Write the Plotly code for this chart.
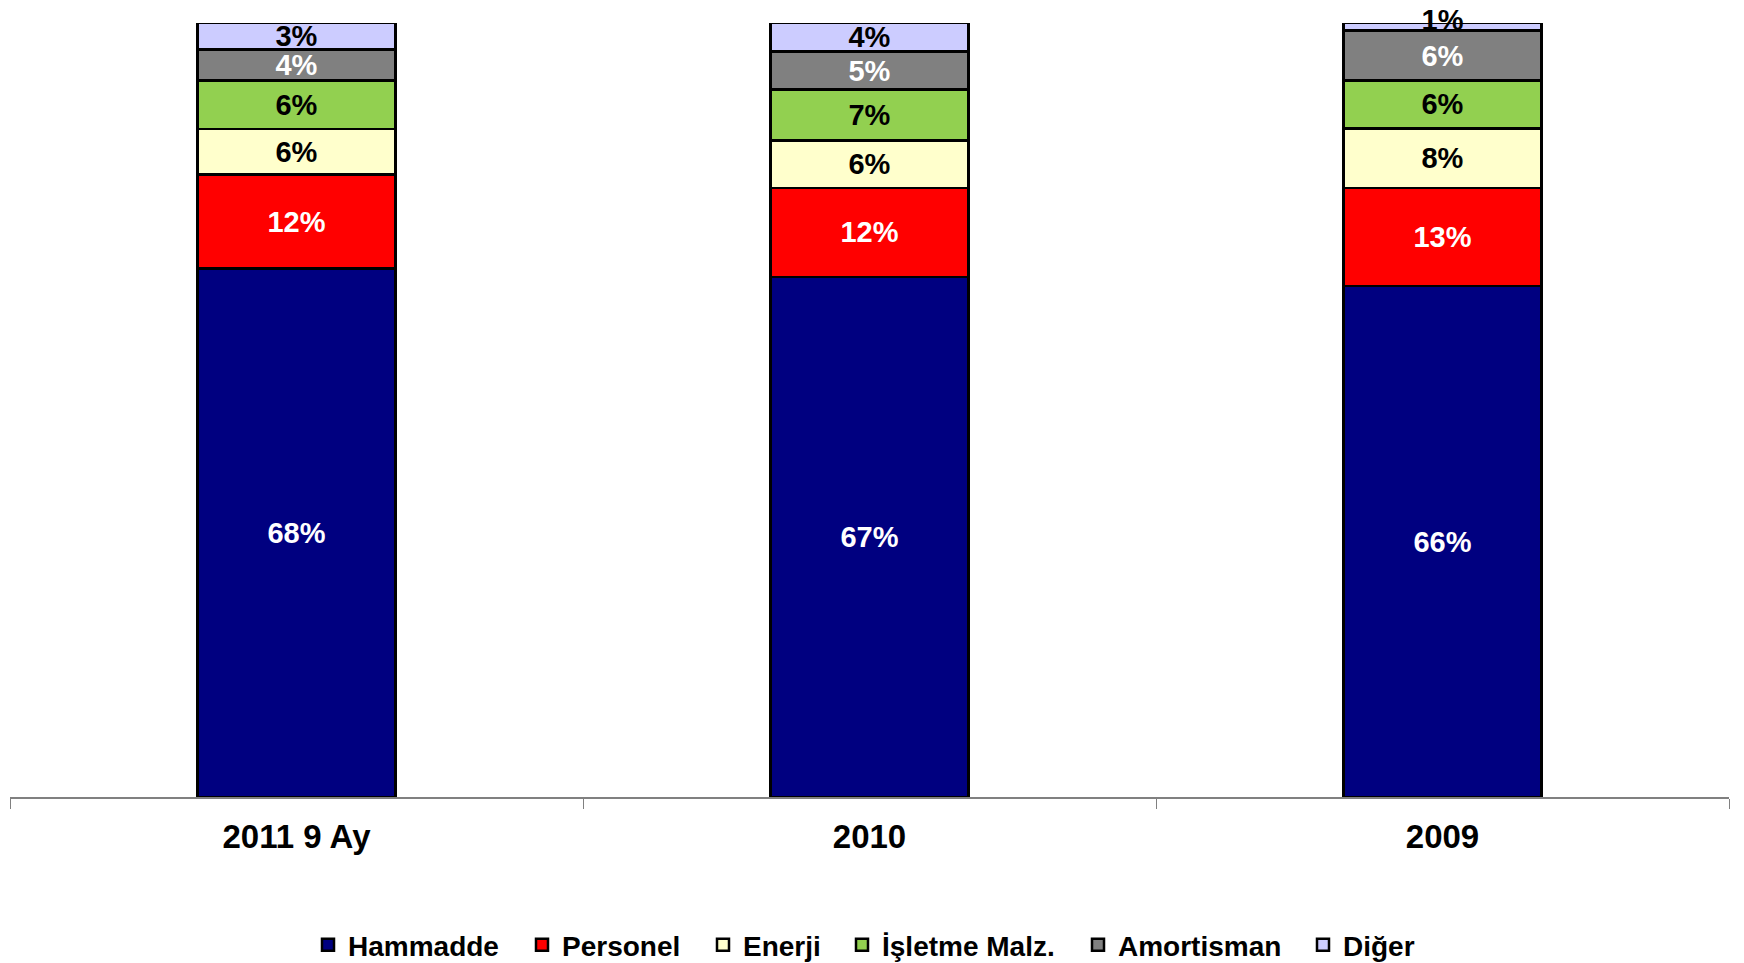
import plotly.graph_objects as go

categories = ["2011 9 Ay", "2010", "2009"]
series_names = ["Hammadde", "Personel", "Enerji", "İşletme Malz.", "Amortisman", "Diğer"]
hammadde = [68.3, 67.2, 66.0]
personel = [12.1, 11.5, 12.7]
enerji = [5.9, 6.1, 7.7]
isletme = [6.3, 6.6, 6.2]
amortisman = [4.0, 4.9, 6.4]
diger = [3.4, 3.7, 1.0]

series_values = [hammadde, personel, enerji, isletme, amortisman, diger]
colors = ["#000080", "#FF0000", "#FFFFCC", "#92D050", "#808080", "#CCCCFF"]
text_colors = ["white", "white", "black", "black", "white", "black"]

FONT = "Liberation Sans, Arial, sans-serif"
W, H = 1744, 963
PAGE_OFF = 8  # the html body margin shifts the figure by this many px
# desired plot-area box on the page
P_LEFT, P_RIGHT, P_TOP, P_BOTTOM = 10, 1729, 23, 797
ML = P_LEFT - PAGE_OFF
MT = P_TOP - PAGE_OFF
MR = W - (P_RIGHT - PAGE_OFF)
MB = H - (P_BOTTOM - PAGE_OFF)
PW = W - ML - MR
PH = H - MT - MB
# legend entry text-start positions (page px) in the reference
legend_text_px = [348, 562, 743, 882, 1118, 1343]
LEGEND_Y_PAGE = 945

fig = go.Figure()
small_x, small_y, small_t = [], [], []
for i, (name, vals) in enumerate(zip(series_names, series_values)):
    labels = []
    for j, v in enumerate(vals):
        if name == "Diğer" and v < 2:
            labels.append("")
            small_x.append(categories[j])
            small_y.append(sum(s[j] for s in series_values))
            small_t.append(f"{round(v):d}%")
        else:
            labels.append(f"{round(v):d}%")
    legend_id = "legend" if i == 0 else f"legend{i + 1}"
    fig.add_trace(go.Bar(
        name=name,
        x=categories,
        y=vals,
        legend=legend_id,
        marker=dict(color=colors[i], line=dict(color="black", width=2.5)),
        text=labels,
        textposition="inside",
        insidetextanchor="middle",
        textangle=0,
        cliponaxis=False,
        insidetextfont=dict(family=FONT, size=29, color=text_colors[i], weight="bold"),
        width=0.345,
    ))

# label of the tiny top segment, centred on the bar top
fig.add_trace(go.Scatter(
    x=small_x, y=small_y, mode="text", text=small_t,
    textposition="middle center", showlegend=False, cliponaxis=False,
    textfont=dict(family=FONT, size=29, color="black", weight="bold"),
    hoverinfo="skip",
))

legend_common = dict(
    orientation="h",
    yanchor="middle",
    y=-(LEGEND_Y_PAGE - PAGE_OFF - (H - MB)) / PH,
    xanchor="left",
    font=dict(family=FONT, size=28, color="black", weight="bold"),
    itemwidth=30,
    bgcolor="rgba(0,0,0,0)",
)
legend_layout = {}
for i in range(len(series_names)):
    key = "legend" if i == 0 else f"legend{i + 1}"
    d = dict(legend_common)
    d["x"] = (legend_text_px[i] - PAGE_OFF - 40 - ML) / PW
    legend_layout[key] = d

fig.update_layout(
    barmode="stack",
    width=W,
    height=H,
    margin=dict(l=ML, r=MR, t=MT, b=MB, autoexpand=False),
    paper_bgcolor="white",
    plot_bgcolor="white",
    uniformtext=dict(minsize=29, mode="show"),
    showlegend=True,
    xaxis=dict(
        type="category",
        range=[-0.5, len(categories) - 0.5],
        showline=True, linecolor="#808080", linewidth=2,
        ticks="outside", tickson="boundaries", ticklen=10, tickcolor="#808080",
        tickfont=dict(family=FONT, size=33, color="black", weight="bold"),
        ticklabelstandoff=9, tickangle=0,
        showgrid=False,
    ),
    yaxis=dict(range=[0, 100], visible=False, showgrid=False),
    **legend_layout,
)

fig.write_html("out.html")
